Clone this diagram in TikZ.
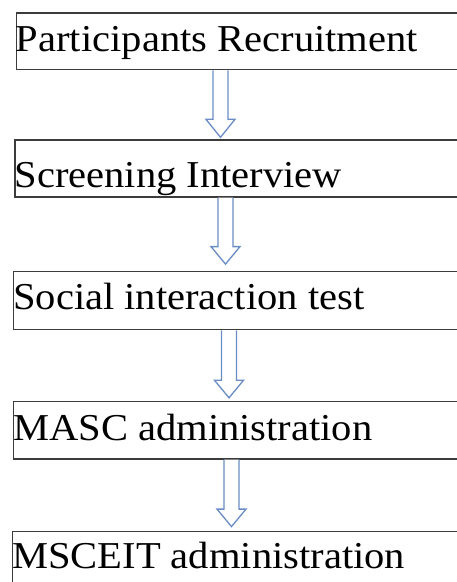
\documentclass[tikz,border=0pt]{standalone}
\usepackage{fontspec}
\setmainfont{Liberation Serif}[FakeStretch=1.067]
\usetikzlibrary{calc}
\definecolor{boxline}{HTML}{3C3C3C}
\definecolor{arrowblue}{HTML}{6A8CC4}
\tikzset{
  stagebox/.style={draw=boxline, line width=1.3pt, rectangle, anchor=north west, inner sep=0pt, minimum width=480pt},
  stagetext/.style={anchor=base west, inner sep=0pt, font=\fontsize{38}{42}\selectfont, text=black},
  flowarrow/.style={draw=arrowblue, line width=1.3pt, fill=white, line join=miter},
}
\newcommand\blockarrow[3]{% #1 = top point, #2 shaft length, #3 head length
  \draw[flowarrow] ($(#1)+(-7.5,0)$) -- ++(0,#2) -- ++(-7,0) -- ++(14.5,#3) -- ++(14.5,-#3) -- ++(-7,0) -- ++(0,-#2);
}
\begin{document}
\begin{tikzpicture}[x=1pt,y=-1pt]
\useasboundingbox (0,0) rectangle (457,582);
\clip (0,0) rectangle (457,582);
\fill[white] (0,0) rectangle (457,582);
% boxes
\node[stagebox, minimum height=56.7pt] (b1) at (15.7,12.3) {};
\node[stagebox, minimum height=57pt] (b2) at (14.3,139.3) {};
\node[stagebox, minimum height=58.3pt] (b3) at (13,270.7) {};
\node[stagebox, minimum height=57.6pt] (b4) at (13,400.7) {};
\node[stagebox, minimum height=80pt] (b5) at (12,531) {};
% texts
\node[stagetext] (t1) at (15.7,51.7) {Participants Recruitment};
\node[stagetext] (t2) at (14.3,187) {Screening Interview};
\node[stagetext] (t3) at (13,309.3) {Social interaction test};
\node[stagetext] (t4) at (13,440) {MASC administration};
\node[stagetext] (t5) at (12,568) {MSCEIT administration};
% arrows
\coordinate (a1) at (b1.south west -| 220.5,0);
\coordinate (a2) at (b2.south west -| 225.5,0);
\coordinate (a3) at (b3.south west -| 229,0);
\coordinate (a4) at (b4.south west -| 231.5,0);
\blockarrow{a1}{49}{18}
\blockarrow{a2}{49}{17.5}
\blockarrow{a3}{50}{17.5}
\blockarrow{a4}{49.5}{17.5}
\end{tikzpicture}
\end{document}
